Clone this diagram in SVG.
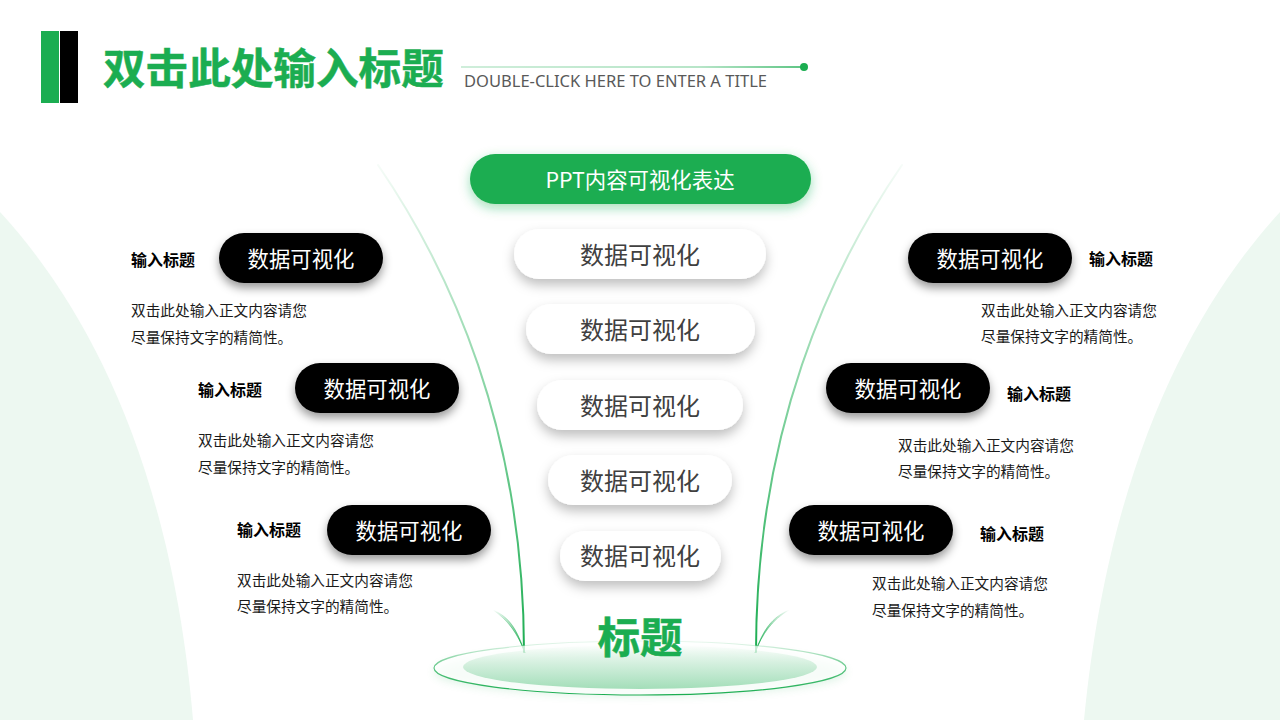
<svg xmlns="http://www.w3.org/2000/svg" width="1280" height="720" viewBox="0 0 1280 720">
<style>
text{font-family:"Noto Sans CJK SC","Noto Sans",sans-serif}
.bp rect{fill:#000;filter:url(#sb)}
.bp text{fill:#fff;font-size:21.4px;text-anchor:middle}
.wp rect{fill:#fff;filter:url(#sw)}
.wp text{fill:#404040;font-size:24px;text-anchor:middle}
.lb{fill:#000;font-size:16px;font-weight:700}
.bd{fill:#1a1a1a;font-size:14.67px}
.ti{fill:#1bad51;stroke:#1bad51;stroke-width:.5;font-size:42.6px;font-weight:700}
</style>
<defs>
<filter id="sb" x="-20%" y="-50%" width="140%" height="220%"><feDropShadow dx="0" dy="5" stdDeviation="5" flood-color="#000" flood-opacity=".4"/></filter>
<filter id="sw" x="-20%" y="-50%" width="140%" height="220%"><feDropShadow dx="0" dy="6" stdDeviation="6" flood-color="#000" flood-opacity=".25"/></filter>
<filter id="sg" x="-20%" y="-50%" width="140%" height="220%"><feDropShadow dx="0" dy="4" stdDeviation="6" flood-color="#1bad51" flood-opacity=".4"/></filter>
<filter id="gl" x="-20%" y="-60%" width="140%" height="220%"><feGaussianBlur stdDeviation="5"/></filter>
<linearGradient id="cl" gradientUnits="userSpaceOnUse" x1="378" y1="165" x2="525" y2="652"><stop offset="0" stop-color="#1bad51" stop-opacity=".04"/><stop offset=".3" stop-color="#1bad51" stop-opacity=".35"/><stop offset="1" stop-color="#1bad51"/></linearGradient>
<linearGradient id="cr" gradientUnits="userSpaceOnUse" x1="902" y1="165" x2="756" y2="652"><stop offset="0" stop-color="#1bad51" stop-opacity=".04"/><stop offset=".3" stop-color="#1bad51" stop-opacity=".35"/><stop offset="1" stop-color="#1bad51"/></linearGradient>
<linearGradient id="sl" gradientUnits="userSpaceOnUse" x1="493" y1="610" x2="525" y2="652"><stop offset="0" stop-color="#1bad51" stop-opacity="0"/><stop offset="1" stop-color="#1bad51"/></linearGradient>
<linearGradient id="sr" gradientUnits="userSpaceOnUse" x1="789" y1="610" x2="756" y2="652"><stop offset="0" stop-color="#1bad51" stop-opacity="0"/><stop offset="1" stop-color="#1bad51"/></linearGradient>
<linearGradient id="ei" x1="0" y1="0" x2="0" y2="1"><stop offset="0" stop-color="#1bad51" stop-opacity="0"/><stop offset="1" stop-color="#1bad51" stop-opacity=".38"/></linearGradient>
<linearGradient id="eo" x1="0" y1="0" x2="0" y2="1"><stop offset="0" stop-color="#1bad51" stop-opacity=".08"/><stop offset=".5" stop-color="#1bad51" stop-opacity=".7"/><stop offset="1" stop-color="#1bad51"/></linearGradient>
<linearGradient id="hl" gradientUnits="userSpaceOnUse" x1="461" y1="0" x2="803" y2="0"><stop offset="0" stop-color="#1bad51" stop-opacity=".3"/><stop offset=".7" stop-color="#1bad51" stop-opacity=".45"/><stop offset="1" stop-color="#1bad51"/></linearGradient>
</defs>
<rect width="1280" height="720" fill="#fff"/>
<path d="M0 212C90 310 172 470 193 720H0Z" fill="#edf8f1"/>
<path d="M1280 212C1190 310 1108 470 1084 720H1280Z" fill="#edf8f1"/>
<g id="header">
<rect x="41" y="31" width="18" height="72" fill="#1bad51"/>
<rect x="60" y="31" width="18" height="72" fill="#000"/>
<text class="ti" x="103" y="84">双击此处输入标题</text>
<rect x="461" y="66.300" width="342" height="1.400" fill="url(#hl)"/>
<circle cx="804" cy="67" r="4" fill="#1bad51"/>
<text x="464" y="87" font-size="17" fill="#595959" textLength="303" lengthAdjust="spacingAndGlyphs" style="font-family:'Noto Sans',sans-serif">DOUBLE-CLICK HERE TO ENTER A TITLE</text>
</g>
<g id="connectors" fill="none" stroke-linecap="round">
<path d="M378 165C450 270 524 430 524 652" stroke="url(#cl)" stroke-width="2"/>
<path d="M902 165C830 270 756 430 756 652" stroke="url(#cr)" stroke-width="2"/>
<path d="M493 610C510 617 517 630 525 653C518 634 508 620 493 610Z" fill="url(#sl)" stroke="url(#sl)" stroke-width=".8"/>
<path d="M789 610C772 617 763 630 755 653C762 634 772 620 789 610Z" fill="url(#sr)" stroke="url(#sr)" stroke-width=".8"/>
</g>
<g id="base">
<ellipse cx="640" cy="672" rx="206" ry="24" fill="#1bad51" opacity=".14" filter="url(#gl)"/>
<ellipse cx="640" cy="668" rx="206" ry="27" fill="#fff" fill-opacity=".75" stroke="url(#eo)" stroke-width="1.2"/>
<ellipse cx="640" cy="667" rx="177" ry="22" fill="url(#ei)"/>
<text class="ti" x="640" y="653" text-anchor="middle">标题</text>
</g>
<g id="top"><rect x="470" y="154" width="341" height="50" rx="25" fill="#1bad51" filter="url(#sg)"/><text x="640" y="187.500" font-size="21.4" fill="#fff" text-anchor="middle">PPT内容可视化表达</text></g>
<g id="c1" class="wp"><rect x="514" y="229" width="252" height="50" rx="25"/><text x="640" y="264">数据可视化</text></g>
<g id="c2" class="wp"><rect x="526" y="304" width="229" height="50" rx="25"/><text x="640" y="339">数据可视化</text></g>
<g id="c3" class="wp"><rect x="537" y="380" width="206" height="50" rx="25"/><text x="640" y="415">数据可视化</text></g>
<g id="c4" class="wp"><rect x="548" y="455" width="184" height="50" rx="25"/><text x="640" y="490">数据可视化</text></g>
<g id="c5" class="wp"><rect x="560" y="531" width="161" height="50" rx="25"/><text x="640" y="565">数据可视化</text></g>
<g id="l1"><g class="bp"><rect x="219" y="233" width="164" height="50" rx="25"/><text x="301" y="267">数据可视化</text></g><text class="lb" x="131" y="266">输入标题</text><text class="bd" x="131" y="315.500">双击此处输入正文内容请您</text><text class="bd" x="131" y="342.500">尽量保持文字的精简性。</text></g>
<g id="l2"><g class="bp"><rect x="295" y="363" width="164" height="50" rx="25"/><text x="377" y="397">数据可视化</text></g><text class="lb" x="198" y="396">输入标题</text><text class="bd" x="198" y="445.500">双击此处输入正文内容请您</text><text class="bd" x="198" y="472.500">尽量保持文字的精简性。</text></g>
<g id="l3"><g class="bp"><rect x="327" y="505" width="164" height="50" rx="25"/><text x="409" y="539">数据可视化</text></g><text class="lb" x="237" y="536">输入标题</text><text class="bd" x="237" y="585.500">双击此处输入正文内容请您</text><text class="bd" x="237" y="612">尽量保持文字的精简性。</text></g>
<g id="r1"><g class="bp"><rect x="908" y="233" width="164" height="50" rx="25"/><text x="990" y="267">数据可视化</text></g><text class="lb" x="1089" y="265">输入标题</text><text class="bd" x="981" y="315.500">双击此处输入正文内容请您</text><text class="bd" x="981" y="342">尽量保持文字的精简性。</text></g>
<g id="r2"><g class="bp"><rect x="826" y="363" width="164" height="50" rx="25"/><text x="908" y="397">数据可视化</text></g><text class="lb" x="1007" y="400">输入标题</text><text class="bd" x="898" y="450.500">双击此处输入正文内容请您</text><text class="bd" x="898" y="476.500">尽量保持文字的精简性。</text></g>
<g id="r3"><g class="bp"><rect x="789" y="505" width="164" height="50" rx="25"/><text x="871" y="539">数据可视化</text></g><text class="lb" x="980" y="540">输入标题</text><text class="bd" x="872" y="588.500">双击此处输入正文内容请您</text><text class="bd" x="872" y="615.500">尽量保持文字的精简性。</text></g>
</svg>
